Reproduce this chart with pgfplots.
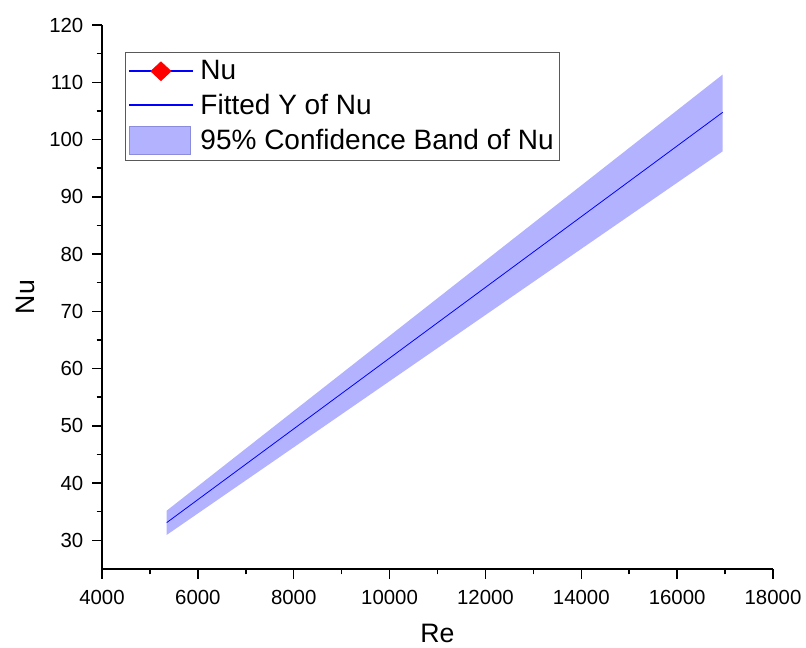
\documentclass[border=0pt]{standalone}
\usepackage{pgfplots}
\pgfplotsset{compat=1.18}
\usepgfplotslibrary{fillbetween}
\usepackage{pgfplotstable}
\usepackage{fontspec}
\setmainfont{Liberation Sans}
\definecolor{bandfill}{RGB}{178,178,255}
\definecolor{bandedge}{RGB}{140,140,220}
\definecolor{lineblue}{RGB}{0,0,255}

\pgfplotstableread{
x fit up lo
5350 33.10 35.19 30.95
8000 49.47 52.59 46.25
11000 68.00 72.28 63.58
14000 86.53 91.98 80.91
16950 104.75 111.35 97.94
}\bandtab

\begin{document}
\begin{tikzpicture}
\begin{axis}[
 at={(0pt,0pt)}, anchor=south west,
 scale only axis, width=503.25pt, height=408pt,
 xmin=4000, xmax=18000, ymin=25, ymax=120,
 axis x line*=bottom, axis y line*=left,
 axis line style={line width=1.3pt, black, -},
 xtick={4000,6000,...,18000}, ytick={30,40,...,120},
 minor x tick num=1, minor y tick num=1,
 tick align=outside,
 major tick length=7.5pt, minor tick length=4pt,
 every tick/.style={black, line width=1.1pt},
 scaled x ticks=false,
 /pgf/number format/1000 sep={},
 /pgf/number format/assume math mode=true,
 tick label style={font=\fontsize{15.3}{18}\selectfont},
 xticklabel style={yshift=-5pt},
 yticklabel style={xshift=-3pt},
 xlabel={Re}, ylabel={Nu},
 label style={font=\fontsize{20}{24}\selectfont},
 xlabel style={at={(axis description cs:0.5,-0.118)}, anchor=center},
 ylabel style={at={(axis description cs:-0.1148,0.5)}, anchor=center},
 legend style={at={(axis description cs:0.0343,0.950)}, anchor=north west,
   draw=gray!70!black, line width=0.6pt, font=\fontsize{21}{25}\selectfont,
   row sep=5.25pt, column sep=3pt, inner xsep=2pt, inner ysep=4pt},
 legend cell align=left,
]
\addplot[draw=none, name path=up, forget plot] table[x=x, y=up] {\bandtab};
\addplot[draw=none, name path=lo, forget plot] table[x=x, y=lo] {\bandtab};
\addplot[fill=bandfill, draw=none, forget plot] fill between[of=up and lo];
\addlegendimage{legend image code/.code={
  \draw[draw=lineblue, line width=1.3pt] (0pt,0pt) -- (48pt,0pt);
  \fill[red] (16.5pt,0pt) -- (24pt,7pt) -- (31.5pt,0pt) -- (24pt,-7pt) -- cycle;}}
\addlegendentry{Nu}
\addplot[lineblue, line width=0.6pt, legend image code/.code={
  \draw[draw=lineblue, line width=1.3pt] (0pt,0pt) -- (48pt,0pt);}] table[x=x, y=fit] {\bandtab};
\addlegendentry{Fitted Y of Nu}
\addlegendimage{legend image code/.code={
  \draw[bandedge, fill=bandfill, line width=0.6pt] (0pt,-10.5pt) rectangle (46pt,10.5pt);}}
\addlegendentry{95\% Confidence Band of Nu}
\end{axis}
\pgfresetboundingbox
\path[use as bounding box] (-76.5pt,-59.25pt) rectangle (528pt,426.75pt);
\end{tikzpicture}
\end{document}
